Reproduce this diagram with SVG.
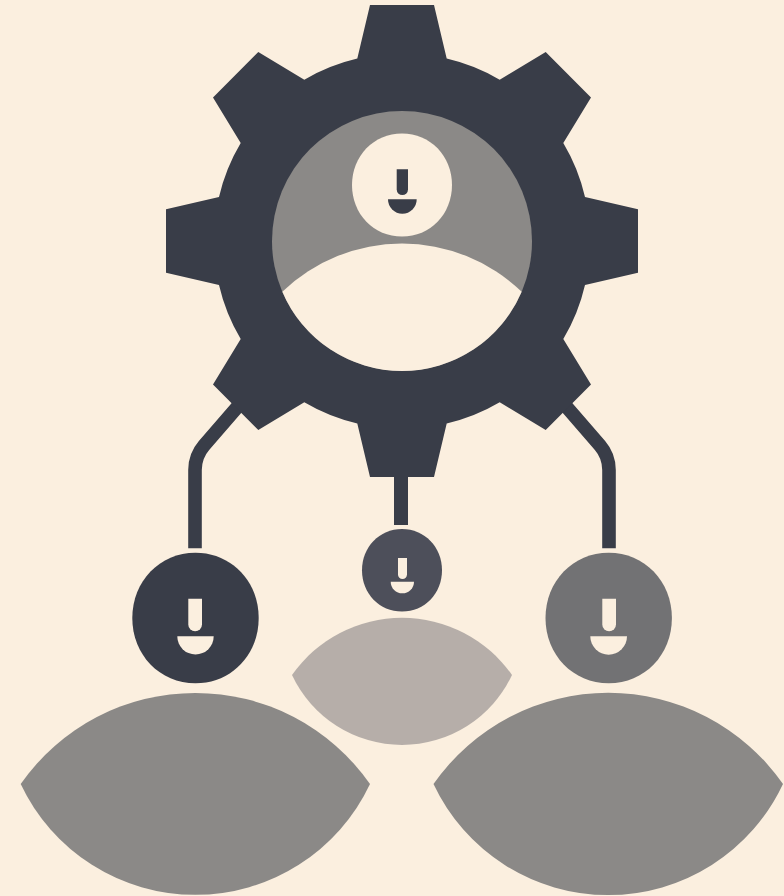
<svg xmlns="http://www.w3.org/2000/svg" width="784" height="896" viewBox="0 0 784 896">
  <style>
    .dark { fill: #393d48; }
    .cream { fill: #fbefdf; }
    .lens { fill: #8b8987; }
    .wire { fill: none; stroke: #393d48; stroke-width: 13.6; }
  </style>
  <defs>
    <path id="blob" d="M0,-1 C0.565,-1 1,-0.565 1,0 C1,0.565 0.565,1 0,1 C-0.565,1 -1,0.565 -1,0 C-1,-0.565 -0.565,-1 0,-1 Z"/>
  </defs>
  <rect width="784" height="896" class="cream"/>
  <g id="connectors">
    <path class="wire" d="M246,397 L204,445.5 Q195,456 195,470 L195,548.3"/>
    <path class="wire" d="M401,470 L401,525" style="stroke-width:14"/>
    <path class="wire" d="M558,397 L600,445.5 Q609,456 609,470 L609,548.3"/>
  </g>
  <g id="gear">
    <path class="dark" d="M370,5 L434,5 L446.7,58.5 A188 188 0 0 1 499.7,79.7 L545.7,52 L591,97.5 L563.3,143 A188 188 0 0 1 585,197 L638,209.3 L638,272.7 L585,285 A188 188 0 0 1 563.3,339 L591,384.5 L545.7,430 L499.7,402.3 A188 188 0 0 1 446.7,423.5 L434,477 L370,477 L357.3,423.5 A188 188 0 0 1 304.3,402.3 L258.3,430 L213,384.5 L240.7,339 A188 188 0 0 1 219,285 L166,272.7 L166,209.3 L219,197 A188 188 0 0 1 240.7,143 L213,97.5 L258.3,52 L304.3,79.7 A188 188 0 0 1 357.3,58.5 Z"/>
    <circle class="lens" cx="402" cy="241" r="130"/>
    <path class="cream" d="M282.3,291.7 A173 173 0 0 1 521.7,291.7 A130 130 0 0 1 282.3,291.7 Z"/>
    <use href="#blob" class="cream" transform="translate(402 185) scale(50 51.6)"/>
    <path class="dark" d="M396.7,169.3 H408 V189.4 A5.65 5.65 0 0 1 396.7,189.4 Z"/>
    <path class="dark" d="M388,199.3 H416.7 A14.35 14.35 0 0 1 388,199.3 Z"/>
  </g>
  <g id="person-left">
    <use href="#blob" class="dark" transform="translate(195.5 618) scale(63.2 65.3)"/>
    <path class="cream" d="M188.3,598.7 H202 V624.5 A6.85 6.85 0 0 1 188.3,624.5 Z"/>
    <path class="cream" d="M177.3,636.3 H213.7 A18.2 18.2 0 0 1 177.3,636.3 Z"/>
    <path class="lens" d="M20.7,784 A213 213 0 0 1 370,784 A193 193 0 0 1 20.7,784 Z"/>
  </g>
  <g id="person-center">
    <use href="#blob" fill="#4d4f5a" transform="translate(402 570.3) scale(40 41.3)"/>
    <path class="cream" d="M398,558 H407 V574.5 A4.5 4.5 0 0 1 398,574.5 Z"/>
    <path class="cream" d="M390.7,581.7 H414 A11.65 11.65 0 0 1 390.7,581.7 Z"/>
    <path d="M292,675 A134.4 134.4 0 0 1 512,675 A121.5 121.5 0 0 1 292,675 Z" fill="#b6aea9"/>
  </g>
  <g id="person-right">
    <use href="#blob" fill="#727274" transform="translate(608.7 618) scale(63.2 65.3)"/>
    <path class="cream" d="M602.3,598.7 H616 V624.5 A6.85 6.85 0 0 1 602.3,624.5 Z"/>
    <path class="cream" d="M590.3,636.3 H627 A18.35 18.35 0 0 1 590.3,636.3 Z"/>
    <path class="lens" d="M433.5,784 A213 213 0 0 1 783,784 A193 193 0 0 1 433.5,784 Z"/>
  </g>
</svg>
